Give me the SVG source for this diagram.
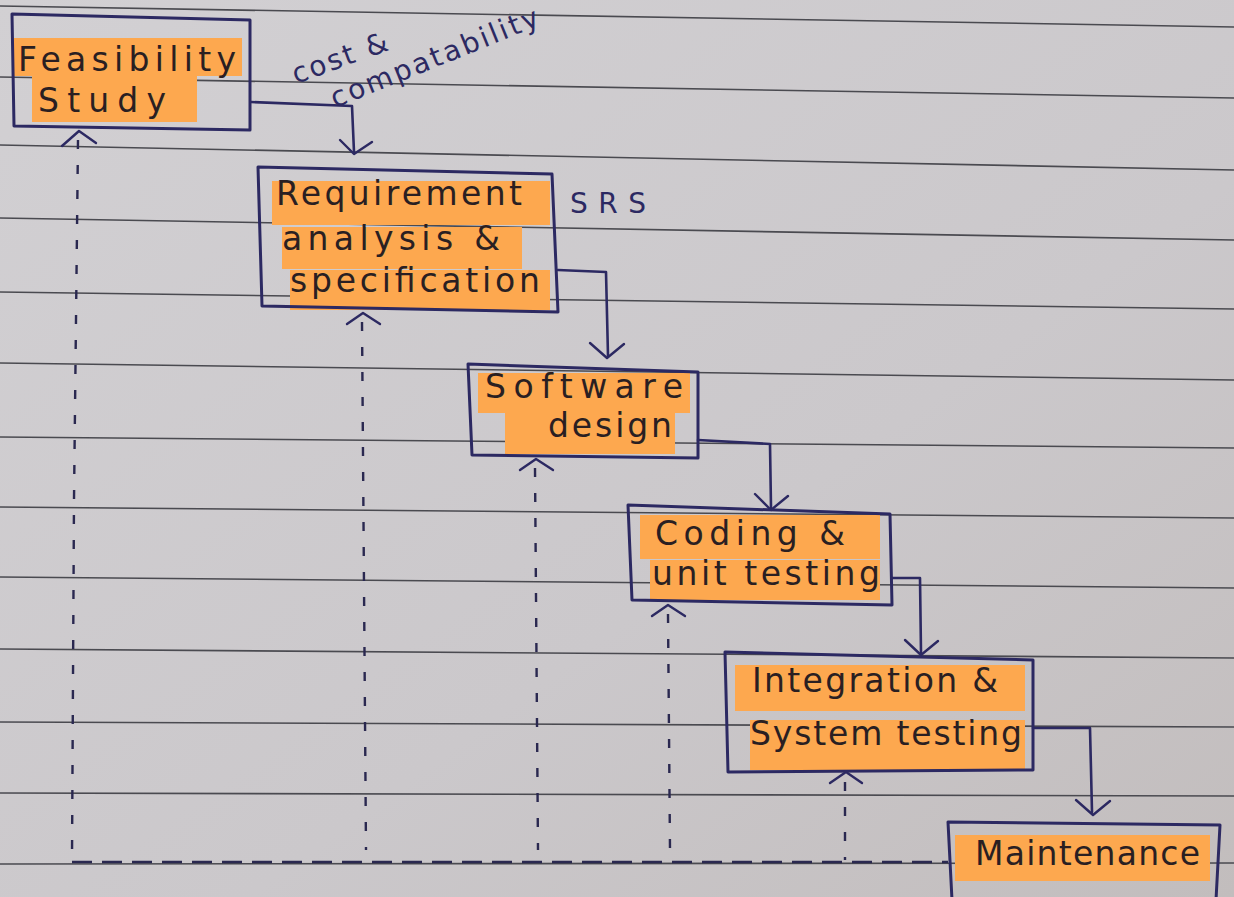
<svg xmlns="http://www.w3.org/2000/svg" width="1234" height="897" viewBox="0 0 1234 897">
  <defs>
    <linearGradient id="paper" x1="0" y1="0" x2="1" y2="1">
      <stop offset="0" stop-color="#d2d0d3"/>
      <stop offset="0.6" stop-color="#cbc8cb"/>
      <stop offset="1" stop-color="#c2bdbd"/>
    </linearGradient>
    <style>
      .rule { stroke: #4a4a50; stroke-width: 1.6; fill: none; }
      .box { fill: none; stroke: #2c2962; stroke-width: 3; stroke-linejoin: round; }
      .hl { fill: #fda84f; }
      .flow { fill: none; stroke: #2c2962; stroke-width: 2.6; stroke-linejoin: round; stroke-linecap: round; }
      .back { fill: none; stroke: #2a2850; stroke-width: 2.4; stroke-dasharray: 9 16; }
      .base { fill: none; stroke: #2a2850; stroke-width: 2.6; stroke-dasharray: 20 10; }
      .head { fill: none; stroke: #2c2962; stroke-width: 2.4; stroke-linecap: round; stroke-linejoin: round; }
      .t { font-family: "DejaVu Sans", "Noto Sans", sans-serif; fill: #2a1f22; font-size: 33px; }
      .note { font-family: "DejaVu Sans", "Noto Sans", sans-serif; fill: #2c2962; font-size: 28px; }
    </style>
  </defs>

  <!-- ruled notebook page -->
  <rect width="1234" height="897" fill="url(#paper)"/>
  <g id="ruling">
    <line class="rule" x1="0" y1="6" x2="1234" y2="27"/>
    <line class="rule" x1="0" y1="77" x2="1234" y2="98"/>
    <line class="rule" x1="0" y1="145" x2="1234" y2="170"/>
    <line class="rule" x1="0" y1="218" x2="1234" y2="240"/>
    <line class="rule" x1="0" y1="292" x2="1234" y2="309"/>
    <line class="rule" x1="0" y1="363" x2="1234" y2="380"/>
    <line class="rule" x1="0" y1="437" x2="1234" y2="448"/>
    <line class="rule" x1="0" y1="507" x2="1234" y2="518"/>
    <line class="rule" x1="0" y1="577" x2="1234" y2="588"/>
    <line class="rule" x1="0" y1="649" x2="1234" y2="658"/>
    <line class="rule" x1="0" y1="722" x2="1234" y2="727"/>
    <line class="rule" x1="0" y1="793" x2="1234" y2="796"/>
    <line class="rule" x1="0" y1="864" x2="1234" y2="863"/>
  </g>

  <!-- feedback paths (dashed) and forward flow arrows -->
  <g id="connectors">
    <path class="back" d="M78,140 L74,500 L72,858"/>
    <path class="back" d="M362,322 L366,850"/>
    <path class="back" d="M535,468 L538,850"/>
    <path class="back" d="M668,614 L670,850"/>
    <path class="back" d="M845,782 L845,860"/>
    <path class="base" d="M72,862 L948,862"/>
    <path class="head" d="M62,146 L79,131 L96,143"/>
    <path class="head" d="M347,324 L363,313 L380,324"/>
    <path class="head" d="M520,470 L536,459 L553,470"/>
    <path class="head" d="M652,616 L668,605 L685,616"/>
    <path class="head" d="M830,783 L846,772 L862,783"/>

    <path class="flow" d="M251,102 L352,106 L354,152"/>
    <path class="head" d="M340,140 L354,154 L372,142"/>
    <path class="flow" d="M558,270 L606,272 L608,356"/>
    <path class="head" d="M590,343 L607,358 L624,344"/>
    <path class="flow" d="M698,440 L770,444 L771,508"/>
    <path class="head" d="M755,494 L771,510 L788,496"/>
    <path class="flow" d="M892,578 L920,578 L921,653"/>
    <path class="head" d="M905,640 L921,655 L938,641"/>
    <path class="flow" d="M1033,728 L1090,728 L1092,812"/>
    <path class="head" d="M1076,800 L1093,815 L1110,801"/>

    <text class="note" transform="translate(296,84) rotate(-20)" textLength="100" lengthAdjust="spacing">cost &amp;</text>
    <text class="note" transform="translate(335,108) rotate(-22)" textLength="222" lengthAdjust="spacing">compatability</text>
    <text class="note" x="570" y="213" textLength="76" lengthAdjust="spacing">SRS</text>
  </g>

  <g id="feasibility">
    <rect class="hl" x="14" y="38" width="228" height="38"/>
    <rect class="hl" x="32" y="76" width="165" height="46"/>
    <path class="box" d="M12,14 L250,20 L250,130 L14,126 Z"/>
    <text class="t" x="18" y="71" textLength="218" lengthAdjust="spacing">Feasibility</text>
    <text class="t" x="38" y="112" textLength="128" lengthAdjust="spacing">Study</text>
  </g>

  <g id="requirement">
    <rect class="hl" x="272" y="181" width="278" height="44"/>
    <rect class="hl" x="282" y="227" width="240" height="42"/>
    <rect class="hl" x="290" y="270" width="260" height="40"/>
    <path class="box" d="M258,167 L552,174 L558,312 L262,306 Z"/>
    <text class="t" x="276" y="205" textLength="246" lengthAdjust="spacing">Requirement</text>
    <text class="t" x="282" y="250" textLength="218" lengthAdjust="spacing">analysis  &amp;</text>
    <text class="t" x="290" y="292" textLength="250" lengthAdjust="spacing">specification</text>
  </g>

  <g id="design">
    <rect class="hl" x="478" y="373" width="212" height="40"/>
    <rect class="hl" x="505" y="412" width="170" height="42"/>
    <path class="box" d="M468,364 L698,372 L698,458 L472,455 Z"/>
    <text class="t" x="485" y="398" textLength="198" lengthAdjust="spacing">Software</text>
    <text class="t" x="548" y="437" textLength="124" lengthAdjust="spacing">design</text>
  </g>

  <g id="coding">
    <rect class="hl" x="640" y="515" width="240" height="44"/>
    <rect class="hl" x="650" y="560" width="230" height="40"/>
    <path class="box" d="M628,505 L890,514 L892,605 L632,600 Z"/>
    <text class="t" x="655" y="545" textLength="190" lengthAdjust="spacing">Coding &amp;</text>
    <text class="t" x="652" y="585" textLength="228" lengthAdjust="spacing">unit testing</text>
  </g>

  <g id="integration">
    <rect class="hl" x="735" y="665" width="290" height="46"/>
    <rect class="hl" x="750" y="720" width="275" height="50"/>
    <path class="box" d="M725,652 L1033,660 L1033,770 L728,772 Z"/>
    <text class="t" x="752" y="692" textLength="246" lengthAdjust="spacing">Integration &amp;</text>
    <text class="t" x="750" y="745" textLength="272" lengthAdjust="spacing">System  testing</text>
  </g>

  <g id="maintenance">
    <rect class="hl" x="955" y="835" width="255" height="46"/>
    <path class="box" d="M952,900 L948,822 L1220,825 L1216,900"/>
    <text class="t" x="975" y="865" textLength="225" lengthAdjust="spacing">Maintenance</text>
  </g>
</svg>
